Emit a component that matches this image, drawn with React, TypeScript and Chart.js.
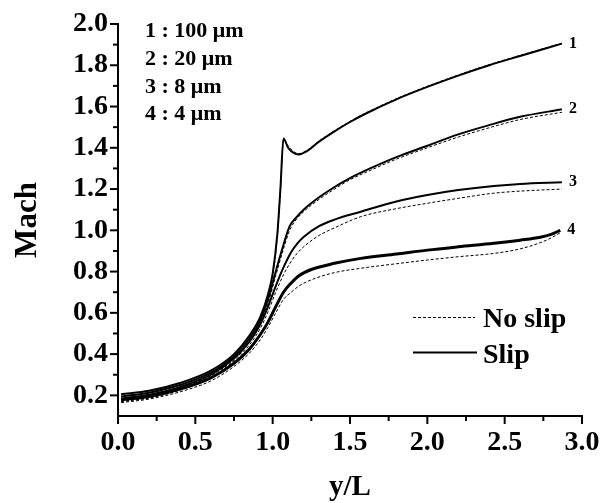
import React, { useEffect, useRef } from 'react';
import { Chart, registerables } from 'chart.js';

Chart.register(...registerables);

// ---- data ----
const xTickValues = [0, 0.5, 1.0, 1.5, 2.0, 2.5, 3.0];
const xMinorValues = [0.25, 0.75, 1.25, 1.75, 2.25, 2.75];
const yTickValues = [0.2, 0.4, 0.6, 0.8, 1.0, 1.2, 1.4, 1.6, 1.8, 2.0];
const yMinorValues = [0.3, 0.5, 0.7, 0.9, 1.1, 1.3, 1.5, 1.7, 1.9];

const sizeLabels = ['1 : 100 \u03bcm', '2 : 20 \u03bcm', '3 : 8 \u03bcm', '4 : 4 \u03bcm'];
const curveNames = ['1', '2', '3', '4'];

const x1 = [0.02, 0.2, 0.4, 0.6, 0.75, 0.85, 0.92, 0.97, 1.0, 1.03, 1.05, 1.07, 1.1, 1.13, 1.17, 1.22, 1.3, 1.4, 1.5, 1.6, 1.8, 2.0, 2.2, 2.4, 2.6, 2.87];
const slip1 = [0.205, 0.222, 0.26, 0.32, 0.40, 0.49, 0.58, 0.69, 0.79, 0.98, 1.2, 1.445, 1.40, 1.378, 1.368, 1.383, 1.43, 1.48, 1.525, 1.565, 1.635, 1.695, 1.75, 1.80, 1.845, 1.905];
const noSlip1 = [0.17, 0.187, 0.225, 0.287, 0.37, 0.46, 0.555, 0.67, 0.775, 0.97, 1.19, 1.44, 1.41, 1.385, 1.372, 1.387, 1.433, 1.483, 1.528, 1.568, 1.638, 1.698, 1.753, 1.803, 1.848, 1.907];

const x2 = [0.02, 0.2, 0.4, 0.6, 0.75, 0.85, 0.92, 0.97, 1.02, 1.07, 1.11, 1.15, 1.2, 1.3, 1.4, 1.5, 1.63, 1.8, 2.0, 2.2, 2.4, 2.6, 2.87];
const slip2 = [0.195, 0.213, 0.25, 0.31, 0.39, 0.475, 0.565, 0.665, 0.80, 0.93, 1.02, 1.06, 1.10, 1.16, 1.21, 1.253, 1.30, 1.355, 1.41, 1.465, 1.51, 1.55, 1.587];
const noSlip2 = [0.18, 0.198, 0.235, 0.295, 0.375, 0.46, 0.545, 0.645, 0.78, 0.91, 1.0, 1.05, 1.09, 1.15, 1.20, 1.245, 1.29, 1.345, 1.40, 1.452, 1.497, 1.537, 1.572];

const x3 = [0.02, 0.2, 0.4, 0.6, 0.75, 0.85, 0.92, 0.97, 1.02, 1.07, 1.12, 1.16, 1.2, 1.3, 1.4, 1.57, 1.8, 2.0, 2.2, 2.43, 2.6, 2.87];
const slip3 = [0.185, 0.203, 0.24, 0.30, 0.38, 0.46, 0.545, 0.63, 0.73, 0.82, 0.895, 0.937, 0.968, 1.02, 1.052, 1.09, 1.14, 1.171, 1.195, 1.215, 1.225, 1.233];
const noSlip3 = [0.172, 0.19, 0.228, 0.287, 0.365, 0.445, 0.525, 0.605, 0.70, 0.785, 0.85, 0.89, 0.92, 0.975, 1.012, 1.066, 1.105, 1.131, 1.155, 1.18, 1.19, 1.20];

const x4 = [0.02, 0.2, 0.4, 0.6, 0.75, 0.85, 0.92, 0.97, 1.02, 1.07, 1.12, 1.17, 1.25, 1.4, 1.57, 1.8, 2.0, 2.2, 2.43, 2.6, 2.73, 2.8, 2.86];
const slip4 = [0.178, 0.195, 0.23, 0.285, 0.355, 0.425, 0.495, 0.555, 0.63, 0.70, 0.745, 0.78, 0.81, 0.84, 0.864, 0.885, 0.904, 0.92, 0.937, 0.952, 0.966, 0.98, 1.0];
const noSlip4 = [0.165, 0.182, 0.217, 0.27, 0.34, 0.405, 0.47, 0.53, 0.60, 0.665, 0.70, 0.73, 0.76, 0.795, 0.816, 0.838, 0.856, 0.872, 0.888, 0.91, 0.94, 0.963, 0.988];

const xs = [x1, x2, x3, x4];
const slips = [slip1, slip2, slip3, slip4];
const noSlips = [noSlip1, noSlip2, noSlip3, noSlip4];

const FONT = '"Liberation Serif", "Times New Roman", serif';

const pts = (x: number[], y: number[]) => x.map((v, i) => ({ x: v, y: y[i] }));

const decorPlugin = {
  id: 'decor',
  afterDraw(chart: any) {
    const ctx = chart.ctx;
    const xs_ = chart.scales.x;
    const ys_ = chart.scales.y;
    const area = chart.chartArea;
    ctx.save();
    ctx.strokeStyle = '#000';
    ctx.lineWidth = 2;
    ctx.lineCap = 'butt';
    // x ticks
    const xb = area.bottom;
    xTickValues.forEach((v) => {
      const p = xs_.getPixelForValue(v);
      ctx.beginPath(); ctx.moveTo(p, xb); ctx.lineTo(p, xb + 8); ctx.stroke();
    });
    xMinorValues.forEach((v) => {
      const p = xs_.getPixelForValue(v);
      ctx.beginPath(); ctx.moveTo(p, xb); ctx.lineTo(p, xb + 5); ctx.stroke();
    });
    const yl = area.left;
    yTickValues.forEach((v) => {
      const p = ys_.getPixelForValue(v);
      ctx.beginPath(); ctx.moveTo(yl - 8, p); ctx.lineTo(yl, p); ctx.stroke();
    });
    yMinorValues.forEach((v) => {
      const p = ys_.getPixelForValue(v);
      ctx.beginPath(); ctx.moveTo(yl - 5, p); ctx.lineTo(yl, p); ctx.stroke();
    });

    // size legend (top-left)
    ctx.fillStyle = '#000';
    ctx.font = `bold 22px ${FONT}`;
    ctx.textAlign = 'left';
    ctx.textBaseline = 'alphabetic';
    sizeLabels.forEach((t, i) => {
      ctx.fillText(t, area.left + 27, area.top + 13 + i * 27.8);
    });

    // curve end labels
    ctx.font = `bold 16px ${FONT}`;
    ctx.textBaseline = 'middle';
    curveNames.forEach((t, i) => {
      const xa = xs[i];
      const ya = slips[i];
      const px = xs_.getPixelForValue(xa[xa.length - 1]) + 7;
      const py = ys_.getPixelForValue(ya[ya.length - 1]);
      ctx.fillText(t, px, py);
    });

    // line-style legend
    const lx0 = area.right - 169;
    const lx1 = area.right - 107;
    ctx.lineWidth = 1;
    ctx.setLineDash([3, 2]);
    ctx.beginPath(); ctx.moveTo(lx0, area.top + 293.5); ctx.lineTo(lx1, area.top + 293.5); ctx.stroke();
    ctx.setLineDash([]);
    ctx.lineWidth = 2;
    ctx.beginPath(); ctx.moveTo(lx0, area.top + 328.5); ctx.lineTo(lx1 + 2, area.top + 328.5); ctx.stroke();
    ctx.font = `bold 28px ${FONT}`;
    ctx.textBaseline = 'alphabetic';
    ctx.fillText('No slip', area.right - 99, area.top + 302.5);
    ctx.fillText('Slip', area.right - 99, area.top + 339);
    ctx.restore();
  },
};

export default function App() {
  const ref = useRef<HTMLCanvasElement | null>(null);
  useEffect(() => {
    if (!ref.current) return;
    const datasets: any[] = [];
    for (let i = 0; i < 4; i++) {
      datasets.push({
        label: 'No slip ' + curveNames[i],
        data: pts(xs[i], noSlips[i]),
        borderColor: '#000',
        borderWidth: 1,
        borderDash: [3, 2],
        pointRadius: 0,
        showLine: true,
        fill: false,
        cubicInterpolationMode: 'monotone',
      });
    }
    for (let i = 0; i < 4; i++) {
      datasets.push({
        label: 'Slip ' + curveNames[i],
        data: pts(xs[i], slips[i]),
        borderColor: '#000',
        borderWidth: i === 3 ? 3 : 2,
        pointRadius: 0,
        showLine: true,
        fill: false,
        cubicInterpolationMode: 'monotone',
      });
    }
    const chart = new Chart(ref.current, {
      type: 'scatter',
      data: { datasets },
      options: {
        animation: false,
        responsive: false,
        maintainAspectRatio: false,
        layout: { padding: { top: 24, right: 18, bottom: 0, left: 0 } },
        plugins: { legend: { display: false }, tooltip: { enabled: false } },
        scales: {
          x: {
            type: 'linear',
            min: 0,
            max: 3,
            afterBuildTicks: (s: any) => { s.ticks = xTickValues.map((v) => ({ value: v })); },
            afterFit: (s: any) => { s.height = 87; s.paddingLeft = 0; s.paddingRight = 0; },
            grid: { display: false, drawTicks: false },
            border: { display: true, color: '#000', width: 2 },
            ticks: {
              color: '#000',
              padding: 10,
              maxRotation: 0,
              font: { family: FONT, size: 28, weight: 'bold' },
              callback: (v: any) => Number(v).toFixed(1),
            },
            title: {
              display: true,
              text: 'y/L',
              color: '#000',
              font: { family: FONT, size: 29, weight: 'bold', lineHeight: 1 },
              padding: { top: 0, bottom: 1 },
            },
          },
          y: {
            type: 'linear',
            min: 0.1,
            max: 2.0,
            afterBuildTicks: (s: any) => { s.ticks = yTickValues.map((v) => ({ value: v })); },
            afterFit: (s: any) => { s.width = 118; s.paddingTop = 0; s.paddingBottom = 0; },
            grid: { display: false, drawTicks: false },
            border: { display: true, color: '#000', width: 2 },
            ticks: {
              color: '#000',
              padding: 10,
              font: { family: FONT, size: 28, weight: 'bold' },
              callback: (v: any) => Number(v).toFixed(1),
            },
            title: {
              display: true,
              text: 'Mach',
              color: '#000',
              font: { family: FONT, size: 31, weight: 'bold', lineHeight: 1 },
              padding: { top: 12, bottom: 0 },
            },
          },
        },
      },
      plugins: [decorPlugin],
    } as any);
    return () => chart.destroy();
  }, []);
  return (
    <div style={{ position: 'fixed', left: 0, top: 0, width: 600, height: 503, background: '#fff' }}>
      <canvas ref={ref} width={600} height={503} style={{ width: 600, height: 503 }} />
    </div>
  );
}
